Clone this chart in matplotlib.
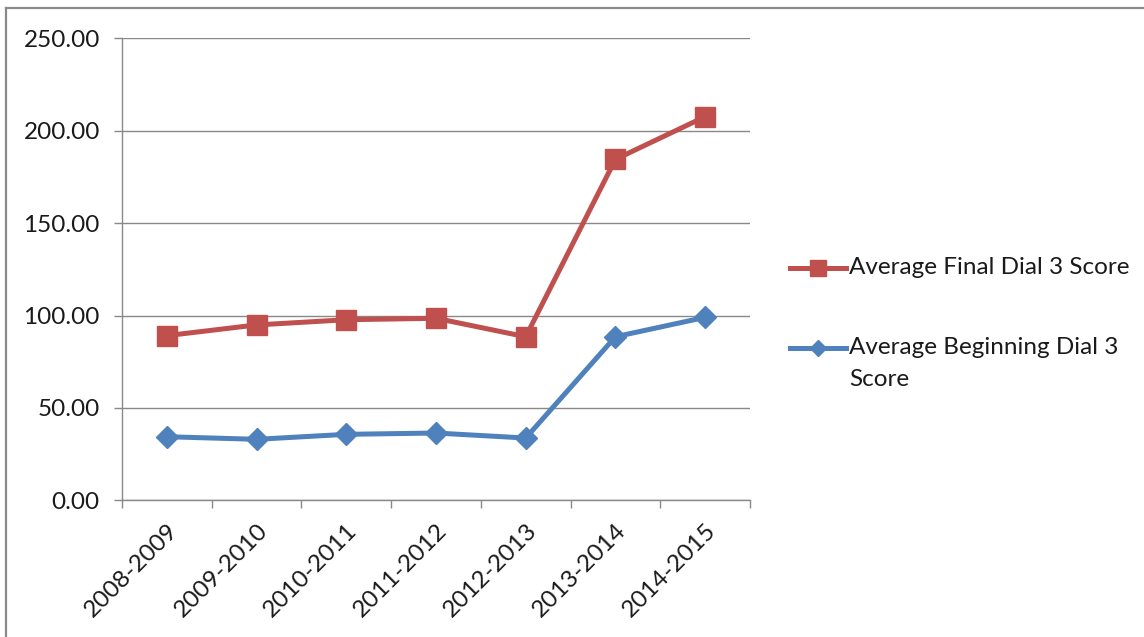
import matplotlib
matplotlib.use("Agg")
import matplotlib.pyplot as plt
from matplotlib.lines import Line2D

categories = ["2008-2009", "2009-2010", "2010-2011", "2011-2012",
              "2012-2013", "2013-2014", "2014-2015"]
final_scores = [89.1, 94.9, 97.7, 98.5, 88.5, 184.5, 207.6]
beginning_scores = [34.4, 33.0, 35.7, 36.4, 33.7, 88.5, 99.0]
y_ticks = [0, 50, 100, 150, 200, 250]
legend_final = "Average Final Dial 3 Score"
legend_beginning = ["Average Beginning Dial 3", "Score"]

RED = "#C0504D"
BLUE = "#4F81BD"
GRID = "#898989"
TXT = "#1a1a1a"
FS = 17.5

plt.rcParams['font.family'] = ['Lato', 'DejaVu Sans']

W, H = 1144, 637
fig = plt.figure(figsize=(W / 100, H / 100), dpi=100)
ax = fig.add_axes([122 / W, 1 - 500.3 / H, (750 - 122) / W, (500.3 - 38.3) / H])

x = list(range(len(categories)))
l_beg, = ax.plot(x, beginning_scores, color=BLUE, lw=3.6, marker='D',
                 markersize=11.5, markeredgecolor=BLUE, zorder=3)
l_fin, = ax.plot(x, final_scores, color=RED, lw=3.6, marker='s',
                 markersize=14.5, markeredgecolor=RED, zorder=3)

ax.set_xlim(-0.5, len(categories) - 0.5)
ax.set_ylim(0, 250)
ax.set_yticks(y_ticks)
ax.set_yticklabels([f"{v:.2f}" for v in y_ticks], fontsize=FS, color=TXT)
ax.yaxis.grid(True, color=GRID, lw=1.0)
ax.set_axisbelow(True)

ax.set_xticks([i - 0.5 for i in range(len(categories) + 1)], minor=False)
ax.set_xticklabels([])
ax.set_xticks(x, minor=True)
ax.set_xticklabels(categories, minor=True, rotation=45, ha='right',
                   rotation_mode='anchor', fontsize=FS, color=TXT)
ax.tick_params(axis='x', which='minor', length=0, pad=14)
ax.tick_params(axis='x', which='major', length=6, color=GRID, width=1)
ax.tick_params(axis='y', length=6, color=GRID, width=1, pad=10)

for s in ['top', 'right']:
    ax.spines[s].set_visible(False)
for s in ['left', 'bottom']:
    ax.spines[s].set_color(GRID)
    ax.spines[s].set_linewidth(1.0)

# manual legend (figure pixel positions)
def fx(px):
    return px / W

def fy(py):
    return 1 - py / H

fig.add_artist(Line2D([fx(790), fx(846)], [fy(268), fy(268)], transform=fig.transFigure,
                      color=RED, lw=3.6))
fig.add_artist(Line2D([fx(818)], [fy(268)], transform=fig.transFigure,
                      color=RED, marker='s', markersize=11, markeredgecolor=RED, lw=0))
fig.add_artist(Line2D([fx(790), fx(846)], [fy(348), fy(348)], transform=fig.transFigure,
                      color=BLUE, lw=3.6))
fig.add_artist(Line2D([fx(818)], [fy(348)], transform=fig.transFigure,
                      color=BLUE, marker='D', markersize=8.5, markeredgecolor=BLUE, lw=0))
fig.text(fx(849), fy(268), legend_final, fontsize=FS, color=TXT, va='center', ha='left')
fig.text(fx(849), fy(348), legend_beginning[0], fontsize=FS, color=TXT, va='center', ha='left')
fig.text(fx(849), fy(380), legend_beginning[1], fontsize=FS, color=TXT, va='center', ha='left')

# outer frame (top and left edges visible)
fig.add_artist(Line2D([6 / W, 6 / W], [0, 1 - 8 / H], transform=fig.transFigure,
                      color="#8a8a8a", lw=1.6))
fig.add_artist(Line2D([6 / W, 1], [1 - 8 / H, 1 - 8 / H], transform=fig.transFigure,
                      color="#8a8a8a", lw=1.6))

fig.savefig("out.png", dpi=100, facecolor="white")
